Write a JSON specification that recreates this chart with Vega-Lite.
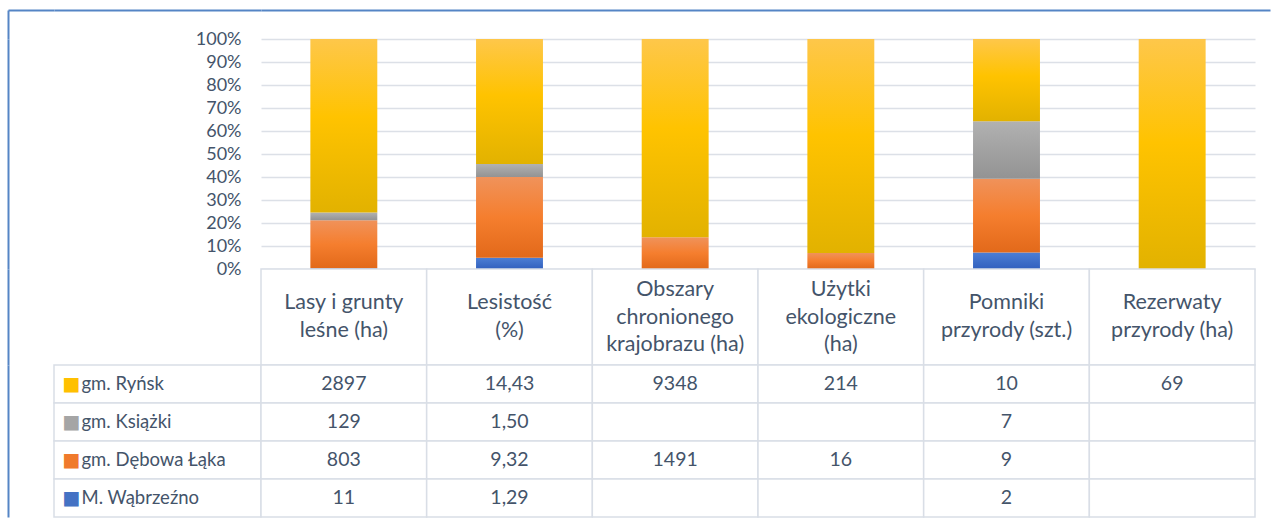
{
  "$schema": "https://vega.github.io/schema/vega-lite/v6.json",
  "padding": {"left": 8, "top": 10, "right": 15, "bottom": 3},
  "background": "white",
  "columns": 3,
  "spacing": 0,
  "bounds": "flush",
  "config": {"view": {"stroke": null}, "font": "Lato"},
  "datasets": {
    "one": [{"a": 0.5}],
    "tab": [
      {"cat": "Lasy i grunty leśne (ha)", "s": "gm. Ryńsk", "ord": 4, "v": 2897, "t": "2897"},
      {"cat": "Lesistość (%)", "s": "gm. Ryńsk", "ord": 4, "v": 14.43, "t": "14,43"},
      {"cat": "Obszary chronionego krajobrazu (ha)", "s": "gm. Ryńsk", "ord": 4, "v": 9348, "t": "9348"},
      {"cat": "Użytki ekologiczne (ha)", "s": "gm. Ryńsk", "ord": 4, "v": 214, "t": "214"},
      {"cat": "Pomniki przyrody (szt.)", "s": "gm. Ryńsk", "ord": 4, "v": 10, "t": "10"},
      {"cat": "Rezerwaty przyrody (ha)", "s": "gm. Ryńsk", "ord": 4, "v": 69, "t": "69"},
      {"cat": "Lasy i grunty leśne (ha)", "s": "gm. Książki", "ord": 3, "v": 129, "t": "129"},
      {"cat": "Lesistość (%)", "s": "gm. Książki", "ord": 3, "v": 1.5, "t": "1,50"},
      {"cat": "Obszary chronionego krajobrazu (ha)", "s": "gm. Książki", "ord": 3, "v": null, "t": ""},
      {"cat": "Użytki ekologiczne (ha)", "s": "gm. Książki", "ord": 3, "v": null, "t": ""},
      {"cat": "Pomniki przyrody (szt.)", "s": "gm. Książki", "ord": 3, "v": 7, "t": "7"},
      {"cat": "Rezerwaty przyrody (ha)", "s": "gm. Książki", "ord": 3, "v": null, "t": ""},
      {"cat": "Lasy i grunty leśne (ha)", "s": "gm. Dębowa Łąka", "ord": 2, "v": 803, "t": "803"},
      {"cat": "Lesistość (%)", "s": "gm. Dębowa Łąka", "ord": 2, "v": 9.32, "t": "9,32"},
      {"cat": "Obszary chronionego krajobrazu (ha)", "s": "gm. Dębowa Łąka", "ord": 2, "v": 1491, "t": "1491"},
      {"cat": "Użytki ekologiczne (ha)", "s": "gm. Dębowa Łąka", "ord": 2, "v": 16, "t": "16"},
      {"cat": "Pomniki przyrody (szt.)", "s": "gm. Dębowa Łąka", "ord": 2, "v": 9, "t": "9"},
      {"cat": "Rezerwaty przyrody (ha)", "s": "gm. Dębowa Łąka", "ord": 2, "v": null, "t": ""},
      {"cat": "Lasy i grunty leśne (ha)", "s": "M. Wąbrzeźno", "ord": 1, "v": 11, "t": "11"},
      {"cat": "Lesistość (%)", "s": "M. Wąbrzeźno", "ord": 1, "v": 1.29, "t": "1,29"},
      {"cat": "Obszary chronionego krajobrazu (ha)", "s": "M. Wąbrzeźno", "ord": 1, "v": null, "t": ""},
      {"cat": "Użytki ekologiczne (ha)", "s": "M. Wąbrzeźno", "ord": 1, "v": null, "t": ""},
      {"cat": "Pomniki przyrody (szt.)", "s": "M. Wąbrzeźno", "ord": 1, "v": 2, "t": "2"},
      {"cat": "Rezerwaty przyrody (ha)", "s": "M. Wąbrzeźno", "ord": 1, "v": null, "t": ""}
    ],
    "heads": [
      {"cat": "Lasy i grunty leśne (ha)", "n": 2, "lines": ["Lasy i grunty", "leśne (ha)"]},
      {"cat": "Lesistość (%)", "n": 2, "lines": ["Lesistość", "(%)"]},
      {"cat": "Obszary chronionego krajobrazu (ha)", "n": 3, "lines": ["Obszary", "chronionego", "krajobrazu (ha)"]},
      {"cat": "Użytki ekologiczne (ha)", "n": 3, "lines": ["Użytki", "ekologiczne", "(ha)"]},
      {"cat": "Pomniki przyrody (szt.)", "n": 2, "lines": ["Pomniki", "przyrody (szt.)"]},
      {"cat": "Rezerwaty przyrody (ha)", "n": 2, "lines": ["Rezerwaty", "przyrody (ha)"]}
    ],
    "ser": [
      {"s": "gm. Ryńsk"},
      {"s": "gm. Książki"},
      {"s": "gm. Dębowa Łąka"},
      {"s": "M. Wąbrzeźno"}
    ]
  },
  "concat": [
    {
      "width": 46, "height": 29,
      "data": {"name": "one"},
      "mark": {"type": "point", "opacity": 0},
      "encoding": {
        "x": {"field": "a", "type": "quantitative", "scale": {"domain": [0, 1]},
              "axis": {"orient": "top", "domainColor": "#5585C5", "domainWidth": 2, "labels": false, "ticks": false, "grid": false, "title": null}},
        "y": {"field": "a", "type": "quantitative", "scale": {"domain": [0, 1]},
              "axis": {"orient": "left", "domainColor": "#5585C5", "domainWidth": 2, "labels": false, "ticks": false, "grid": false, "title": null}}
      }
    },
    {
      "width": 207, "height": 29,
      "data": {"name": "one"},
      "mark": {"type": "point", "opacity": 0},
      "encoding": {
        "x": {"field": "a", "type": "quantitative", "scale": {"domain": [0, 1]},
              "axis": {"orient": "top", "domainColor": "#5585C5", "domainWidth": 2, "labels": false, "ticks": false, "grid": false, "title": null}}
      }
    },
    {
      "width": 1009, "height": 29,
      "data": {"name": "one"},
      "mark": {"type": "point", "opacity": 0},
      "encoding": {
        "x": {"field": "a", "type": "quantitative", "scale": {"domain": [0, 1]},
              "axis": {"orient": "top", "domainColor": "#5585C5", "domainWidth": 2, "labels": false, "ticks": false, "grid": false, "title": null}}
      }
    },
    {
      "width": 46, "height": 230,
      "data": {"name": "one"},
      "mark": {"type": "point", "opacity": 0},
      "encoding": {
        "y": {"field": "a", "type": "quantitative", "scale": {"domain": [0, 1]},
              "axis": {"orient": "left", "domainColor": "#5585C5", "domainWidth": 2, "labels": false, "ticks": false, "grid": false, "title": null}}
      }
    },
    {
      "width": 207, "height": 230,
      "data": {"name": "one"},
      "mark": {"type": "point", "opacity": 0},
      "encoding": {}
    },
    {
      "width": 994, "height": 230,
      "data": {"name": "tab"},
      "transform": [
        {"filter": "datum.v != null"},
        {"stack": "v", "groupby": ["cat"], "sort": [{"field": "ord", "order": "ascending"}], "as": ["y0", "y1"], "offset": "normalize"}
      ],
      "encoding": {
        "x": {"field": "cat", "type": "nominal", "axis": null,
              "scale": {"domain": ["Lasy i grunty leśne (ha)", "Lesistość (%)", "Obszary chronionego krajobrazu (ha)", "Użytki ekologiczne (ha)", "Pomniki przyrody (szt.)", "Rezerwaty przyrody (ha)"], "paddingInner": 0.596, "paddingOuter": 0.298}},
        "y": {"field": "y0", "type": "quantitative", "scale": {"domain": [0, 1]},
              "axis": {"values": [0, 0.1, 0.2, 0.3, 0.4, 0.5, 0.6, 0.7, 0.8, 0.9, 1], "format": ".0%", "grid": true, "gridColor": "#DCE0E7", "gridWidth": 1.5, "domain": false, "ticks": false, "labelPadding": 20, "labelFontSize": 18, "labelColor": "#44546A", "labelFont": "Lato", "title": null}},
        "y2": {"field": "y1"}
      },
      "layer": [
        {
          "transform": [{"filter": {"field": "s", "equal": "M. Wąbrzeźno"}}],
          "mark": {"type": "bar", "color": {"gradient": "linear", "x1": 0, "y1": 0, "x2": 0, "y2": 1, "stops": [{"offset": 0, "color": "#4C7ED4"}, {"offset": 1, "color": "#3160BE"}]}}
        },
        {
          "transform": [{"filter": {"field": "s", "equal": "gm. Dębowa Łąka"}}],
          "mark": {"type": "bar", "color": {"gradient": "linear", "x1": 0, "y1": 0, "x2": 0, "y2": 1, "stops": [{"offset": 0, "color": "#F0925A"}, {"offset": 0.5, "color": "#F57E2E"}, {"offset": 1, "color": "#E2691A"}]}}
        },
        {
          "transform": [{"filter": {"field": "s", "equal": "gm. Książki"}}],
          "mark": {"type": "bar", "color": {"gradient": "linear", "x1": 0, "y1": 0, "x2": 0, "y2": 1, "stops": [{"offset": 0, "color": "#B1B1B1"}, {"offset": 1, "color": "#939393"}]}}
        },
        {
          "transform": [{"filter": {"field": "s", "equal": "gm. Ryńsk"}}],
          "mark": {"type": "bar", "color": {"gradient": "linear", "x1": 0, "y1": 0, "x2": 0, "y2": 1, "stops": [{"offset": 0, "color": "#FEC74A"}, {"offset": 0.45, "color": "#FFC300"}, {"offset": 1, "color": "#E2B200"}]}}
        }
      ]
    },
    {
      "width": 46, "height": 96,
      "data": {"name": "one"},
      "mark": {"type": "point", "opacity": 0},
      "encoding": {
        "y": {"field": "a", "type": "quantitative", "scale": {"domain": [0, 1]},
              "axis": {"orient": "left", "domainColor": "#5585C5", "domainWidth": 2, "labels": false, "ticks": false, "grid": false, "title": null}}
      }
    },
    {
      "width": 207, "height": 96,
      "data": {"name": "one"},
      "mark": {"type": "point", "opacity": 0},
      "encoding": {}
    },
    {
      "width": 994, "height": 96,
      "data": {"name": "heads"},
      "encoding": {
        "x": {"field": "cat", "type": "nominal", "axis": null,
              "scale": {"domain": ["Lasy i grunty leśne (ha)", "Lesistość (%)", "Obszary chronionego krajobrazu (ha)", "Użytki ekologiczne (ha)", "Pomniki przyrody (szt.)", "Rezerwaty przyrody (ha)"], "paddingInner": 0, "paddingOuter": 0}}
      },
      "layer": [
        {"mark": {"type": "rect", "fill": "white", "stroke": "#D9DEE6", "strokeWidth": 1.5}},
        {"transform": [{"filter": "datum.n == 2"}],
         "mark": {"type": "text", "fontSize": 21.5, "lineHeight": 28, "dy": -14, "baseline": "middle", "align": "center", "color": "#44546A", "font": "Lato"},
         "encoding": {"text": {"field": "lines"}}},
        {"transform": [{"filter": "datum.n == 3"}],
         "mark": {"type": "text", "fontSize": 21.5, "lineHeight": 27.5, "dy": -27, "baseline": "middle", "align": "center", "color": "#44546A", "font": "Lato"},
         "encoding": {"text": {"field": "lines"}}}
      ]
    },
    {
      "width": 46, "height": 152,
      "data": {"name": "one"},
      "mark": {"type": "point", "opacity": 0},
      "encoding": {
        "y": {"field": "a", "type": "quantitative", "scale": {"domain": [0, 1]},
              "axis": {"orient": "left", "domainColor": "#5585C5", "domainWidth": 2, "labels": false, "ticks": false, "grid": false, "title": null}}
      }
    },
    {
      "width": 207, "height": 152,
      "data": {"name": "ser"},
      "mark": {"type": "rect", "fill": "white", "stroke": "#D9DEE6", "strokeWidth": 1.5},
      "encoding": {
        "y": {"field": "s", "type": "nominal",
              "scale": {"domain": ["gm. Ryńsk", "gm. Książki", "gm. Dębowa Łąka", "M. Wąbrzeźno"], "paddingInner": 0, "paddingOuter": 0},
              "axis": {"orient": "left", "labelExpr": "'■'", "labelAlign": "left", "labelPadding": -8, "labelFont": "DejaVu Sans", "labelFontSize": 19, "labelBaseline": "middle",
                       "labelColor": {"expr": "datum.value == 'gm. Ryńsk' ? '#FFC000' : datum.value == 'gm. Książki' ? '#A5A5A5' : datum.value == 'gm. Dębowa Łąka' ? '#F07A2C' : '#4472C4'"},
                       "ticks": false, "domain": false, "grid": false, "title": null}}
      }
    },
    {
      "width": 994, "height": 152,
      "data": {"name": "tab"},
      "encoding": {
        "x": {"field": "cat", "type": "nominal", "axis": null,
              "scale": {"domain": ["Lasy i grunty leśne (ha)", "Lesistość (%)", "Obszary chronionego krajobrazu (ha)", "Użytki ekologiczne (ha)", "Pomniki przyrody (szt.)", "Rezerwaty przyrody (ha)"], "paddingInner": 0, "paddingOuter": 0}},
        "y": {"field": "s", "type": "nominal",
              "scale": {"domain": ["gm. Ryńsk", "gm. Książki", "gm. Dębowa Łąka", "M. Wąbrzeźno"], "paddingInner": 0, "paddingOuter": 0},
              "axis": {"orient": "left", "labelAlign": "left", "labelPadding": 180, "labelFont": "Lato", "labelFontSize": 18.5, "labelColor": "#44546A", "labelLimit": 0, "ticks": false, "domain": false, "grid": false, "title": null}}
      },
      "layer": [
        {"mark": {"type": "rect", "fill": "white", "stroke": "#D9DEE6", "strokeWidth": 1.5}},
        {"mark": {"type": "text", "fontSize": 19.5, "baseline": "middle", "align": "center", "color": "#44546A", "font": "Lato"},
         "encoding": {"text": {"field": "t"}}}
      ]
    }
  ]
}
